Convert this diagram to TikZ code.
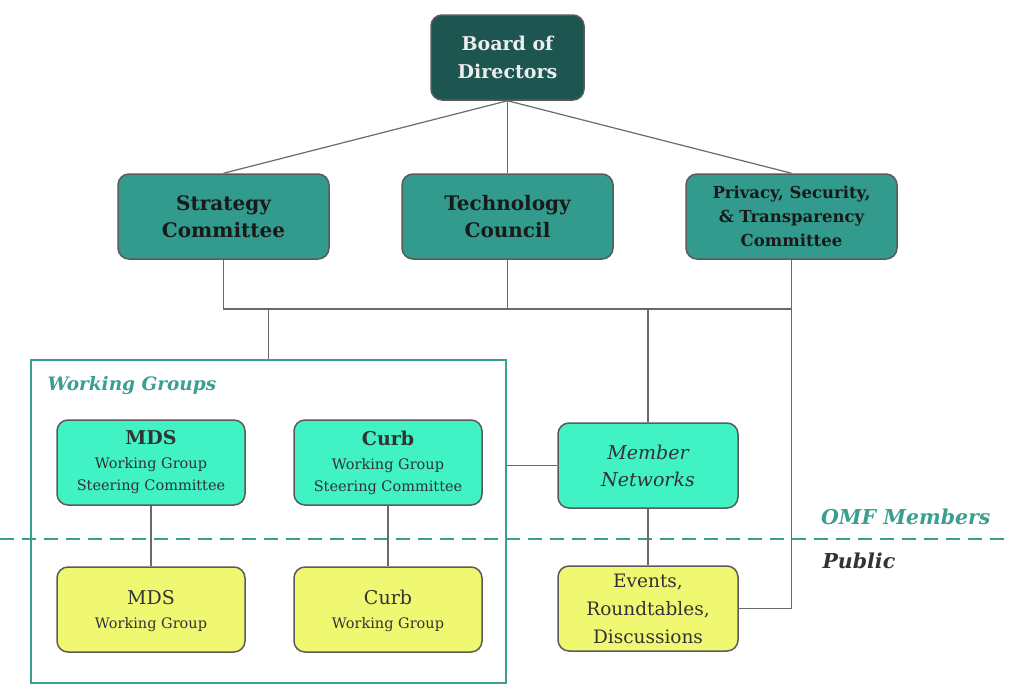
\documentclass[tikz,border=0pt]{standalone}
\usepackage{fontspec}
\setmainfont{DejaVu Serif}
\definecolor{boardfill}{HTML}{1D5550}
\definecolor{comfill}{HTML}{329B8E}
\definecolor{aqua}{HTML}{40F2C4}
\definecolor{yel}{HTML}{F0F872}
\definecolor{teal2}{HTML}{3A9E90}
\definecolor{edge}{HTML}{5A5A5A}
\definecolor{conncol}{HTML}{6A6A6A}
\definecolor{txt}{HTML}{333333}
\begin{document}
\begin{tikzpicture}[x=1pt,y=-1pt,
  base/.style={draw=edge, line width=1.5pt, rounded corners=11pt, align=center, inner sep=0pt},
  boardbox/.style={base, fill=boardfill, text=white!93!black, minimum width=153pt, minimum height=85pt,
    font=\fontsize{19}{28}\selectfont\bfseries},
  combox/.style={base, fill=comfill, text=black!90, minimum width=211pt, minimum height=85pt,
    font=\fontsize{20}{27}\selectfont\bfseries},
  combox2/.style={combox, font=\fontsize{16.5}{24}\selectfont\bfseries},
  aquabox/.style={base, fill=aqua, text=txt, minimum width=188pt, minimum height=85pt,
    font=\fontsize{14.5}{23}\selectfont},
  yelbox/.style={base, fill=yel, text=txt, minimum width=188pt, minimum height=85pt,
    font=\fontsize{14.5}{24}\selectfont},
  conn/.style={draw=conncol, line width=1.2pt},
  wgframe/.style={draw=teal2, line width=2.5pt, minimum width=475pt, minimum height=323pt, inner sep=0pt},
]
\useasboundingbox (0,0) rectangle (1024,696);

% top level
\node[boardbox] (bod) at (507.5,57.5) {Board of\\Directors};
\node[combox] (strat) at (223.5,216.5) {Strategy\\Committee};
\node[combox] (tech) at (507.5,216.5) {Technology\\Council};
\node[combox2] (priv) at (791.5,216.5) {Privacy, Security,\\\& Transparency\\Committee};

% working groups frame
\node[wgframe] (wg) at (268.5,521.5) {};
\node[anchor=west, text=teal2, font=\fontsize{18.5}{20}\selectfont\bfseries\itshape] (wglabel) at (44,386) {Working Groups};

\node[aquabox] (mdssc) at (151,462.5) {{\fontsize{19}{24}\selectfont\bfseries MDS}\\[1pt]
  Working Group\\[-1pt]Steering Committee};
\node[aquabox] (curbsc) at (388,462.5) {{\fontsize{19}{24}\selectfont\bfseries Curb}\\[1pt]
  Working Group\\[-1pt]Steering Committee};
\node[yelbox, text depth=-4pt] (mdswg) at (151,609.5) {{\fontsize{19}{24}\selectfont MDS}\\
  Working Group};
\node[yelbox, text depth=-4pt] (curbwg) at (388,609.5) {{\fontsize{19}{24}\selectfont Curb}\\
  Working Group};

\node[aquabox, minimum width=180pt, font=\fontsize{19}{27}\selectfont\itshape] (mn) at (648,465.5) {Member\\Networks};
\node[yelbox, minimum width=180pt, font=\fontsize{18.5}{28}\selectfont] (ev) at (648,608.5) {Events,\\Roundtables,\\Discussions};

% divider
\coordinate (dl) at (0,539);
\coordinate (dr) at (1004,539);
\draw[teal2, line width=2.5pt, dash pattern=on 14pt off 8pt] (dl) -- (dr);
\node[anchor=east, text=teal2, font=\fontsize{20.5}{22}\selectfont\bfseries\itshape] (omf) at (994,517) {OMF Members};
\node[anchor=west, text=txt, font=\fontsize{20.5}{22}\selectfont\bfseries\itshape] (pub) at (819,561) {Public};

% connectors
\coordinate (bus) at (0,309);
\draw[conn] (bod.south) -- (strat.north);
\draw[conn] (bod.south) -- (tech.north);
\draw[conn] (bod.south) -- (priv.north);
\draw[conn] (strat.south) -- (strat.south |- bus) -- (priv.south |- bus);
\draw[conn] (tech.south) -- (tech.south |- bus);
\draw[conn] (priv.south) |- (ev.east);
\draw[conn] (wg.north |- bus) -- (wg.north);
\draw[conn] (mn.north |- bus) -- (mn.north);
\draw[conn] (wg.east |- mn.west) -- (mn.west);
\draw[conn] (mdssc.south) -- (mdswg.north);
\draw[conn] (curbsc.south) -- (curbwg.north);
\draw[conn] (mn.south) -- (ev.north);
\end{tikzpicture}
\end{document}
